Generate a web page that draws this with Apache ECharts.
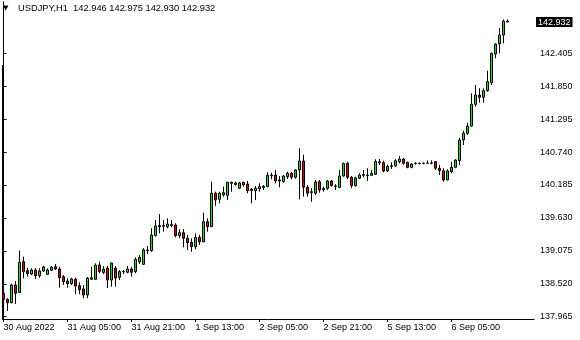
<!DOCTYPE html>
<html>
<head>
<meta charset="utf-8">
<script src="https://cdn.jsdelivr.net/npm/echarts@6/dist/echarts.min.js"></script>
<style>
html,body{margin:0;padding:0;background:#fff;}
#chart{width:580px;height:340px;}
</style>
</head>
<body>
<div id="chart"></div>
<script>
// H1 bars, each row: [open, close, low, high]
const ohlc = [
[138.359,138.258,138.218,138.381],
[138.258,138.201,138.061,138.275],
[138.201,138.499,138.191,138.521],
[138.499,138.359,138.179,138.566],
[138.373,138.881,138.364,139.081],
[138.891,138.723,138.612,138.976],
[138.740,138.690,138.639,138.785],
[138.685,138.752,138.668,138.780],
[138.752,138.656,138.600,138.785],
[138.656,138.735,138.622,138.780],
[138.735,138.802,138.718,138.824],
[138.679,138.752,138.668,138.780],
[138.747,138.802,138.735,138.819],
[138.807,138.769,138.752,138.853],
[138.769,138.622,138.454,138.807],
[138.639,138.554,138.499,138.668],
[138.566,138.521,138.454,138.612],
[138.521,138.600,138.499,138.622],
[138.595,138.482,138.343,138.622],
[138.488,138.420,138.343,138.544],
[138.432,138.331,138.275,138.499],
[138.331,138.612,138.275,138.634],
[138.595,138.622,138.583,138.807],
[138.595,138.836,138.583,138.864],
[138.836,138.727,138.697,138.891],
[138.710,138.764,138.685,138.819],
[138.785,138.583,138.449,138.819],
[138.583,138.870,138.471,138.875],
[138.785,138.617,138.471,138.819],
[138.629,138.723,138.583,138.752],
[138.723,138.725,138.685,138.752],
[138.713,138.769,138.697,138.819],
[138.769,138.713,138.639,138.802],
[138.723,138.931,138.697,138.965],
[138.891,138.965,138.853,139.005],
[138.848,139.089,138.836,139.118],
[139.077,139.089,139.022,139.156],
[139.077,139.342,139.060,139.455],
[139.333,139.494,139.314,139.595],
[139.482,139.502,139.370,139.696],
[139.502,139.489,139.398,139.595],
[139.482,139.527,139.455,139.623],
[139.502,139.516,139.471,139.595],
[139.511,139.330,139.303,139.540],
[139.330,139.381,139.287,139.438],
[139.381,139.287,139.135,139.443],
[139.287,139.213,139.089,139.342],
[139.219,139.145,139.060,139.287],
[139.145,139.303,139.101,139.370],
[139.303,139.229,139.173,139.342],
[139.229,139.566,139.219,139.718],
[139.566,139.482,139.398,139.623],
[139.482,140.045,139.477,140.240],
[140.045,139.932,139.831,140.072],
[139.944,140.045,139.876,140.072],
[140.017,140.055,139.988,140.157],
[140.011,140.230,139.932,140.240],
[140.230,140.213,140.072,140.240],
[140.219,140.193,140.173,140.240],
[140.131,140.219,140.118,140.240],
[140.230,140.190,140.157,140.240],
[140.202,140.089,140.045,140.252],
[140.113,140.093,139.876,140.131],
[140.089,140.131,139.932,140.168],
[140.118,140.157,140.072,140.213],
[140.143,140.163,140.101,140.185],
[140.157,140.348,140.147,140.399],
[140.341,140.353,140.281,140.392],
[140.353,140.257,140.213,140.438],
[140.269,140.252,140.147,140.336],
[140.240,140.336,140.224,140.353],
[140.325,140.382,140.286,140.409],
[140.382,140.315,140.281,140.409],
[140.315,140.438,140.291,140.450],
[140.438,140.589,139.944,140.804],
[140.589,140.147,139.988,140.696],
[140.147,140.045,139.988,140.185],
[140.059,140.072,139.903,140.131],
[140.045,140.235,140.017,140.269],
[140.240,140.101,140.055,140.269],
[140.109,140.126,140.072,140.157],
[140.131,140.252,140.101,140.269],
[140.252,140.176,140.157,140.269],
[140.160,140.168,140.101,140.197],
[140.143,140.336,140.131,140.438],
[140.336,140.550,140.325,140.561],
[140.550,140.315,140.286,140.577],
[140.315,140.173,140.131,140.336],
[140.176,140.303,140.157,140.325],
[140.298,140.353,140.286,140.382],
[140.348,140.361,140.315,140.438],
[140.341,140.353,140.252,140.467],
[140.348,140.379,140.336,140.438],
[140.365,140.581,140.353,140.618],
[140.577,140.561,140.522,140.623],
[140.561,140.421,140.399,140.594],
[140.421,140.500,140.404,140.527],
[140.497,140.510,140.455,140.567],
[140.505,140.594,140.494,140.618],
[140.577,140.623,140.550,140.674],
[140.623,140.550,140.527,140.640],
[140.567,140.482,140.467,140.577],
[140.482,140.539,140.467,140.550],
[140.547,140.550,140.527,140.567],
[140.550,140.549,140.533,140.561],
[140.549,140.551,140.533,140.567],
[140.551,140.553,140.549,140.600],
[140.553,140.556,140.533,140.600],
[140.577,140.467,140.438,140.589],
[140.467,140.426,140.353,140.522],
[140.426,140.269,140.240,140.467],
[140.269,140.421,140.264,140.450],
[140.409,140.483,140.382,140.577],
[140.483,140.606,140.467,140.618],
[140.594,140.943,140.522,140.982],
[140.943,141.056,140.859,141.100],
[141.056,141.179,141.028,141.235],
[141.179,141.545,141.168,141.730],
[141.545,141.702,141.505,141.870],
[141.702,141.663,141.572,141.815],
[141.663,141.774,141.572,141.815],
[141.773,141.926,141.757,142.111],
[141.909,142.405,141.870,142.415],
[142.393,142.561,142.320,142.573],
[142.561,142.713,142.405,142.831],
[142.713,142.946,142.573,142.972],
[142.946,142.932,142.930,142.975]
];

const symbol = 'USDJPY,H1';
const lastBar = {open: 142.946, high: 142.975, low: 142.930, close: 142.932};

const xTickIdx = [0, 16, 32, 48, 64, 80, 96, 112];
const xTickLabels = ['30 Aug 2022', '31 Aug 05:00', '31 Aug 21:00', '1 Sep 13:00',
                     '2 Sep 05:00', '2 Sep 21:00', '5 Sep 13:00', '6 Sep 05:00'];
const yTicks = [137.965, 138.520, 139.075, 139.630, 140.185, 140.740, 141.295, 141.850, 142.405];

const FONT = '"Liberation Sans", Arial, sans-serif';
const chart = echarts.init(document.getElementById('chart'), null, {renderer: 'canvas'});

const seriesData = ohlc.map((r, i) => [i, r[0], r[1], r[2], r[3]]);

const option = {
  animation: false,
  backgroundColor: '#ffffff',
  textStyle: {fontFamily: FONT},
  grid: {left: 2.5, right: 46, top: 2, bottom: 21, containLabel: false},
  graphic: [
    {type: 'line', shape: {x1: 2.5, y1: 65, x2: 2.5, y2: 319}, style: {stroke: '#000', lineWidth: 1}, silent: true},
    {type: 'text', left: 3, top: 5, style: {text: '▼', fontSize: 7, fill: '#000', fontFamily: '"DejaVu Sans"'}},
    {type: 'text', left: 18, top: 3.5, style: {
      text: symbol + '  ' + [lastBar.open, lastBar.high, lastBar.low, lastBar.close].map(v => v.toFixed(3)).join(' '),
      fontSize: 9.3, fill: '#000', fontFamily: FONT}}
  ],
  xAxis: {
    type: 'value',
    min: -0.25,
    max: -0.25 + 531.5 / 4,
    axisLine: {show: true, onZero: false, lineStyle: {color: '#000', width: 1}},
    axisTick: {show: true, customValues: xTickIdx, length: 3, lineStyle: {color: '#000'}},
    axisLabel: {
      customValues: xTickIdx,
      formatter: v => xTickLabels[xTickIdx.indexOf(Math.round(v))] || '',
      align: 'left', color: '#000', fontSize: 9, margin: 4, fontFamily: FONT
    },
    splitLine: {show: false}
  },
  yAxis: {
    type: 'value',
    position: 'right',
    min: 137.926,
    max: 143.269,
    scale: true,
    axisLine: {show: true, lineStyle: {color: '#000', width: 1}},
    axisTick: {show: true, customValues: yTicks, length: 3, lineStyle: {color: '#000'}},
    axisLabel: {
      customValues: yTicks,
      formatter: v => v.toFixed(3),
      color: '#000', fontSize: 9, margin: 6, fontFamily: FONT
    },
    splitLine: {show: false}
  },
  series: [{
    type: 'candlestick',
    data: seriesData,
    encode: {x: 0, y: [1, 2, 3, 4]},
    barWidth: 2,
    clip: false,
    itemStyle: {
      color: '#32cd32',
      color0: '#dd0000',
      borderColor: '#000',
      borderColor0: '#000',
      borderWidth: 1
    },
    markLine: {
      silent: true,
      symbol: 'none',
      animation: false,
      lineStyle: {color: 'rgba(0,0,0,0)', width: 0},
      label: {
        show: true, position: 'end', distance: 2,
        formatter: () => lastBar.close.toFixed(3),
        backgroundColor: '#000', color: '#fff', fontSize: 9, fontFamily: FONT,
        padding: [1, 2, 0, 2]
      },
      data: [{yAxis: lastBar.close}]
    }
  }]
};
chart.setOption(option);
</script>
</body>
</html>
